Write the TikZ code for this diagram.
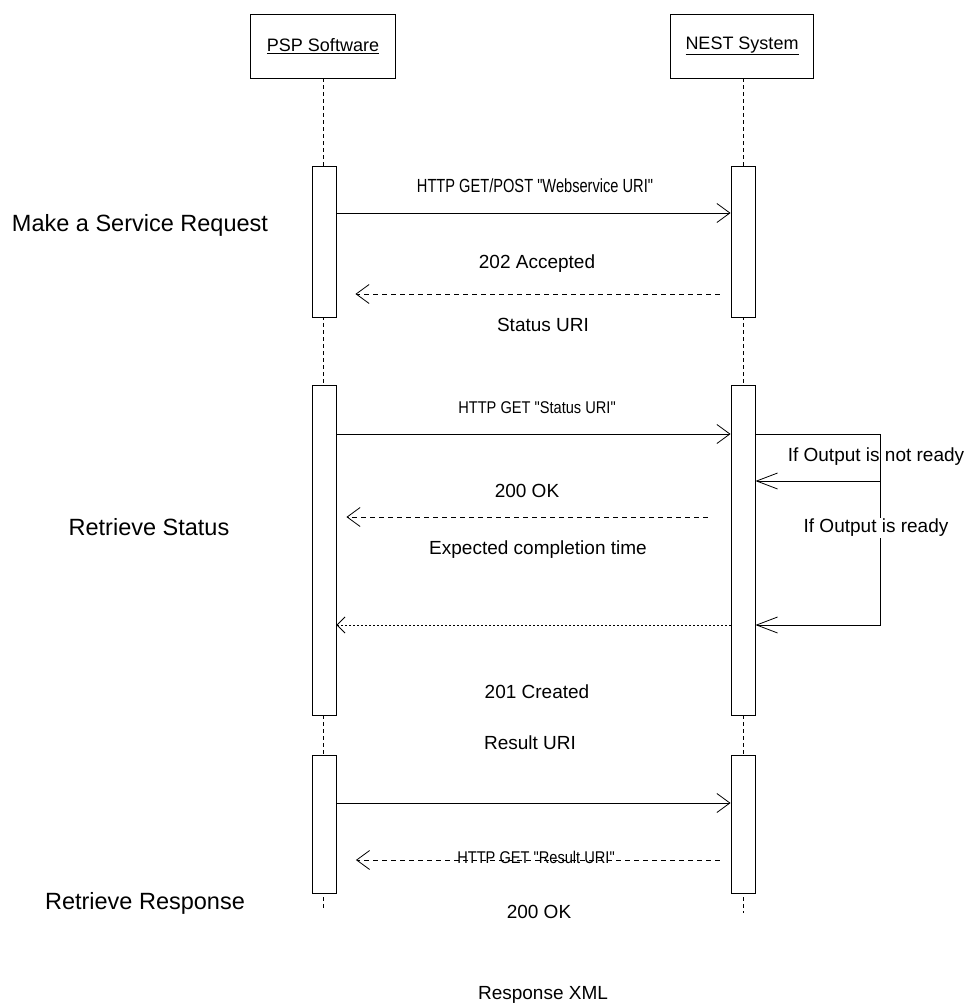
\documentclass[tikz,border=0pt]{standalone}
\usepackage{fontspec}
\setmainfont{Liberation Sans}
\newfontfamily\condfont[FakeStretch=0.86]{Liberation Sans}
\newfontfamily\condfontb[FakeStretch=0.77]{Liberation Sans}
\usetikzlibrary{arrows.meta}
\begin{document}
\begin{tikzpicture}[x=1pt,y=-1pt,
  head/.style={draw, line width=0.9pt, minimum width=145pt, minimum height=64pt, inner sep=0pt, font=\fontsize{18}{20}\selectfont},
  act/.style={draw, fill=white, line width=0.9pt, minimum width=24pt, inner sep=0pt},
  life/.style={line width=0.8pt, dash pattern=on 4pt off 3pt},
  msg/.style={line width=0.8pt, -{Straight Barb[length=13pt,width=19pt]}},
  ret/.style={msg, dash pattern=on 5pt off 4pt},
  dotret/.style={line width=0.8pt, dash pattern=on 2pt off 2pt, -{Straight Barb[length=8pt,width=16pt]}},
  loopar/.style={line width=0.8pt, -{Straight Barb[length=21pt,width=16pt]}},
  lbl/.style={font=\fontsize{19}{22}\selectfont, inner sep=1pt},
  hl/.style={font=\condfont\fontsize{17}{20}\selectfont, inner sep=1pt},
  hlb/.style={font=\condfontb\fontsize{19}{22}\selectfont, inner sep=1pt},
  side/.style={font=\fontsize{23.5}{26}\selectfont, inner sep=1pt}]
\useasboundingbox (0,0) rectangle (971,1006);

% participants
\node[head] (psp) at (323,46) {\underline{PSP Software}};
\node[head, minimum width=143pt] (nest) at (742,46) {\underline{NEST System}};

% lifelines
\coordinate (pspend) at (323,908);
\coordinate (nestend) at (743,913);
\draw[life] (psp.south) -- (pspend);
\draw[life] (psp.south -| nestend) -- (nestend);

% activation boxes
\node[act, minimum height=151pt] (pa1) at (324,241.5) {};
\node[act, minimum height=151pt] (na1) at (743,241.5) {};
\node[act, minimum height=330pt] (pa2) at (324,550) {};
\node[act, minimum height=330pt] (na2) at (743,550) {};
\node[act, minimum height=138pt] (pa3) at (324.5,824) {};
\node[act, minimum height=138pt] (na3) at (743,824) {};

% messages
\draw[msg] (pa1.east |- 0,213) -- (na1.west |- 0,213);
\draw[ret, shorten <=11pt, shorten >=19pt] (na1.west |- 0,294) -- (pa1.east |- 0,294);
\draw[msg] (pa2.east |- 0,434) -- (na2.west |- 0,434);
\draw[ret, shorten <=23pt, shorten >=10pt] (na2.west |- 0,517) -- (pa2.east |- 0,517);
\draw[dotret] (na2.west |- 0,625) -- (pa2.east |- 0,625);
\draw[msg] (pa3.east |- 0,803) -- (na3.west |- 0,803);
\draw[ret, shorten <=11pt, shorten >=19pt] (na3.west |- 0,860) -- (pa3.east |- 0,860);

% self loop
\coordinate (c1) at (880,434);
\coordinate (c2) at (880,481);
\coordinate (c3) at (880,625);
\draw[line width=0.8pt] (na2.east |- c1) -- (c1) -- (c2);
\draw[loopar] (c2) -- (na2.east |- c2);
\draw[loopar] (c2) -- (c3) -- (na2.east |- c3);

% message labels
\node[hlb] (t1) at (535,186) {HTTP GET/POST "Webservice URI"};
\node[lbl] (t2) at (537,264) {202 Accepted};
\node[lbl] (t3) at (543,325) {Status URI};
\node[hl] (t4) at (537,408) {HTTP GET "Status URI"};
\node[lbl] (t5) at (527,491) {200 OK};
\node[lbl] (t6) at (538,550) {Expected completion time};
\node[lbl] (t7) at (876,457) {If Output is not ready};
\node[lbl, fill=white] (t8) at (876,528) {If Output is ready};
\node[lbl] (t9) at (537,692) {201 Created};
\node[lbl] (t10) at (530,743) {Result URI};
\node[hl] (t11) at (536,857) {HTTP GET "Result URI"};
\node[lbl] (t12) at (539,912) {200 OK};
\node[lbl] (t13) at (543,995) {Response XML};

% phase labels
\node[side] (s1) at (140,225) {Make a Service Request};
\node[side] (s2) at (149,527) {Retrieve Status};
\node[side] (s3) at (145,903) {Retrieve Response};
\end{tikzpicture}
\end{document}
